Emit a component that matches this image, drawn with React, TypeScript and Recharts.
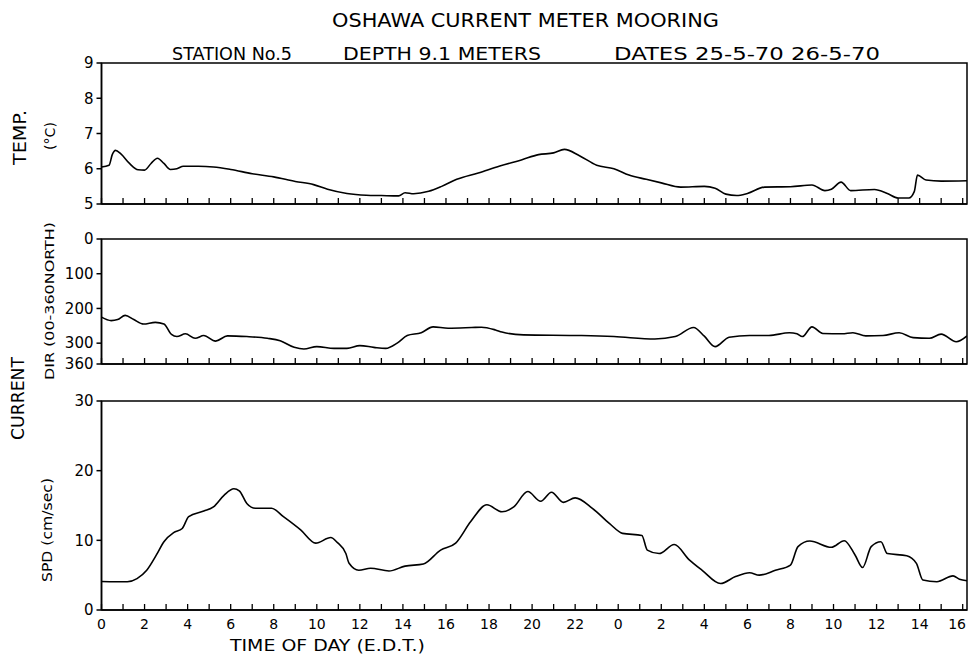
import { LineChart, Line, XAxis, YAxis, ReferenceArea } from "recharts";

const FONT = "'DejaVu Sans', 'Liberation Sans', sans-serif";

// time axis (hours from 0:00 on 25-5-70)
const hourTicks = [
  0, 1, 2, 3, 4, 5, 6, 7, 8, 9, 10, 11, 12, 13, 14, 15, 16, 17, 18, 19, 20,
  21, 22, 23, 24, 25, 26, 27, 28, 29, 30, 31, 32, 33, 34, 35, 36, 37, 38, 39, 40,
];
const hourLabels = [
  "0", "2", "4", "6", "8", "10", "12", "14", "16", "18", "20", "22",
  "0", "2", "4", "6", "8", "10", "12", "14", "16",
];
const X_MAX = 40.2;

const tempTicks = [5, 6, 7, 8, 9];
const dirTicks = [0, 100, 200, 300, 360];
const spdTicks = [0, 10, 20, 30];

const tempHours = [
  0, 0.35, 0.5, 0.65, 0.9, 1.3, 1.7, 2.0, 2.3, 2.6, 2.9, 3.2, 3.5, 3.8, 4.5,
  5.2, 6.0, 7.0, 8.0, 9.0, 9.85, 10.5, 11.4, 12.3, 13.0, 13.8, 14.1, 14.5,
  15.2, 15.8, 16.5, 17.5, 18.5, 19.5, 20.3, 21.0, 21.5, 22.2, 23.0, 23.8,
  24.5, 25.3, 26.0, 26.9, 28.0, 28.5, 29.0, 29.5, 30.0, 30.8, 32.0, 33.0,
  33.6, 33.9, 34.35, 34.8, 35.9, 36.5, 37.0, 37.5, 37.75, 37.9, 38.3, 39.0,
  40.2,
];
const tempValues = [
  6.05, 6.1, 6.4, 6.52, 6.42, 6.15, 5.97, 5.96, 6.15, 6.3, 6.15, 5.98, 6.0,
  6.07, 6.07, 6.05, 5.98, 5.86, 5.77, 5.64, 5.55, 5.42, 5.3, 5.25, 5.24,
  5.23, 5.32, 5.29, 5.36, 5.5, 5.7, 5.88, 6.08, 6.25, 6.4, 6.45, 6.55, 6.37,
  6.1, 6.0, 5.82, 5.7, 5.6, 5.48, 5.5, 5.45, 5.28, 5.24, 5.3, 5.48, 5.49,
  5.54, 5.38, 5.42, 5.62, 5.38, 5.41, 5.3, 5.17, 5.17, 5.35, 5.82, 5.68,
  5.65, 5.66,
];

const dirHours = [
  0, 0.45, 0.75, 1.1, 1.5, 1.95, 2.5, 2.9, 3.25, 3.5, 3.9, 4.35, 4.75, 5.3,
  5.85, 6.75, 7.7, 8.3, 8.95, 9.4, 10.0, 10.8, 11.4, 12.0, 12.65, 13.2,
  13.75, 14.2, 14.85, 15.4, 16.1, 17.2, 17.65, 18.3, 18.6, 19.6, 22.3, 23.8,
  25.7, 26.65, 27.5, 28.0, 28.5, 29.15, 30.1, 31.0, 31.95, 32.3, 32.55, 33.0,
  33.5, 34.4, 34.9, 35.5, 36.3, 37.05, 37.7, 38.45, 39.0, 39.7, 40.2,
];
const dirValues = [
  225, 235, 232, 220, 232, 245, 240, 245, 275, 281, 273, 286, 278, 294, 279,
  281, 286, 293, 312, 317, 310, 315, 315, 307, 312, 315, 299, 278, 270, 253,
  257, 255, 254, 262, 268, 276, 278, 281, 288, 281, 255, 280, 310, 283, 278,
  278, 270, 273, 281, 253, 272, 273, 270, 279, 278, 270, 284, 286, 274, 296,
  279,
];

const spdHours = [
  0, 1.2, 1.65, 2.1, 2.55, 2.9, 3.35, 3.75, 4.05, 4.75, 5.2, 5.7, 6.15, 6.4,
  6.75, 7.15, 7.9, 8.45, 9.25, 9.95, 10.65, 10.95, 11.35, 11.5, 11.95, 12.5,
  13.35, 14.1, 14.95, 15.75, 16.45, 17.15, 17.9, 18.6, 19.15, 19.8, 20.4,
  20.9, 21.45, 22.0, 22.8, 23.6, 24.2, 25.1, 25.35, 25.9, 26.6, 27.3, 27.9,
  28.75, 29.45, 30.1, 30.55, 31.3, 32.0, 32.35, 32.9, 33.9, 34.5, 35.0,
  35.35, 35.75, 36.2, 36.5, 37.4, 37.85, 38.15, 38.8, 39.55, 39.85, 40.2,
];
const spdValues = [
  4.1, 4.05, 4.5, 5.7, 7.9, 9.8, 11.1, 11.7, 13.4, 14.2, 14.8, 16.5, 17.4,
  17.1, 15.3, 14.6, 14.6, 13.4, 11.5, 9.6, 10.4, 9.7, 8.1, 6.7, 5.7, 6.0, 5.6,
  6.3, 6.6, 8.6, 9.6, 12.7, 15.1, 14.1, 14.8, 17.0, 15.6, 16.9, 15.45, 16.1,
  14.6, 12.4, 11.0, 10.7, 8.6, 8.1, 9.4, 7.2, 5.7, 3.8, 4.8, 5.35, 5.0, 5.7,
  6.45, 9.1, 9.9, 9.0, 9.95, 7.9, 6.1, 9.1, 9.8, 8.1, 7.8, 6.7, 4.3, 4.06,
  4.9, 4.4, 4.2,
];

const toRows = (hours: number[], values: number[]) =>
  hours.map((h, i) => ({ h, v: values[i] }));

function HourTick(props: any) {
  const { x, y, payload, showLabel } = props;
  const h = payload.value as number;
  const last = h === hourTicks[hourTicks.length - 1];
  return (
    <g>
      <line x1={x} x2={x} y1={y} y2={y - 6} stroke="#000" strokeWidth={1.3} />
      {showLabel && h % 2 === 0 && (
        <text
          x={last ? 966 : x}
          y={y + 19}
          textAnchor={last ? "end" : "middle"}
          fill="#000"
          fontSize={14}
          fontFamily={FONT}
        >
          {hourLabels[h / 2]}
        </text>
      )}
    </g>
  );
}

type PanelProps = {
  plotTop: number;
  plotBottom: number;
  axisHeight: number;
  rows: { h: number; v: number }[];
  domain: [number, number];
  ticks: number[];
  reversed?: boolean;
  showLabels?: boolean;
};

function Panel({ plotTop, plotBottom, axisHeight, rows, domain, ticks, reversed, showLabels }: PanelProps) {
  return (
    <div style={{ position: "absolute", left: 0, top: 0 }}>
      <LineChart
        width={968}
        height={657}
        data={rows}
        margin={{ top: plotTop, right: 1, bottom: 657 - plotBottom - axisHeight, left: 0 }}
      >
        <XAxis
          dataKey="h"
          type="number"
          domain={[0, X_MAX]}
          ticks={hourTicks}
          interval={0}
          allowDataOverflow
          height={axisHeight}
          tickLine={false}
          tickSize={0}
          tickMargin={0}
          axisLine={{ stroke: "#000", strokeWidth: 1.5 }}
          tick={(p: any) => <HourTick {...p} showLabel={showLabels} />}
        />
        <YAxis
          type="number"
          width={101.5}
          domain={domain}
          ticks={ticks}
          reversed={reversed}
          allowDataOverflow
          interval={0}
          tickSize={5}
          tickMargin={3}
          axisLine={{ stroke: "#000", strokeWidth: 1.5 }}
          tickLine={{ stroke: "#000", strokeWidth: 1.5 }}
          tick={{ fill: "#000", fontSize: 15, fontFamily: FONT }}
        />
        <ReferenceArea
          x1={0}
          x2={X_MAX}
          y1={domain[0]}
          y2={domain[1]}
          fill="none"
          stroke="#000"
          strokeWidth={1.5}
          ifOverflow="visible"
        />
        <Line
          dataKey="v"
          type="monotone"
          stroke="#000"
          strokeWidth={1.6}
          dot={false}
          isAnimationActive={false}
        />
      </LineChart>
    </div>
  );
}

function VLabel({ cx, cy, len, size, children }: any) {
  return (
    <text
      transform={`translate(${cx},${cy}) rotate(-90)`}
      textAnchor="middle"
      dominantBaseline="central"
      fontSize={size}
      fontFamily={FONT}
      fill="#000"
      textLength={len}
      lengthAdjust="spacingAndGlyphs"
    >
      {children}
    </text>
  );
}

export default function App() {
  return (
    <div
      style={{
        position: "absolute",
        left: 0,
        top: 0,
        width: 968,
        height: 657,
        background: "#fff",
        fontFamily: FONT,
      }}
    >
      <Panel plotTop={63} plotBottom={204} axisHeight={10} rows={toRows(tempHours, tempValues)} domain={[5, 9]} ticks={tempTicks} />
      <Panel plotTop={239} plotBottom={364} axisHeight={10} rows={toRows(dirHours, dirValues)} domain={[0, 360]} ticks={dirTicks} reversed />
      <Panel plotTop={401} plotBottom={610} axisHeight={40} rows={toRows(spdHours, spdValues)} domain={[0, 30]} ticks={spdTicks} showLabels />
      <svg width={968} height={657} style={{ position: "absolute", left: 0, top: 0, pointerEvents: "none" }}>
        <text x={332} y={27} fontSize={20} fontFamily={FONT} fill="#000" textLength={387} lengthAdjust="spacingAndGlyphs">
          OSHAWA CURRENT METER MOORING
        </text>
        <text x={172} y={60} fontSize={18} fontFamily={FONT} fill="#000" textLength={120} lengthAdjust="spacingAndGlyphs">
          STATION No.5
        </text>
        <text x={343} y={60} fontSize={18} fontFamily={FONT} fill="#000" textLength={198} lengthAdjust="spacingAndGlyphs">
          DEPTH 9.1  METERS
        </text>
        <text x={614} y={60} fontSize={18} fontFamily={FONT} fill="#000" textLength={266} lengthAdjust="spacingAndGlyphs">
          DATES 25-5-70  26-5-70
        </text>
        <text x={230} y={651} fontSize={16} fontFamily={FONT} fill="#000" textLength={195} lengthAdjust="spacingAndGlyphs">
          TIME OF  DAY  (E.D.T.)
        </text>
        <VLabel cx={20} cy={137.5} len={55} size={17}>TEMP.</VLabel>
        <VLabel cx={50} cy={136} len={28} size={14}>(°C)</VLabel>
        <VLabel cx={17.5} cy={398.5} len={83} size={17}>CURRENT</VLabel>
        <VLabel cx={49} cy={301} len={158} size={13}>DIR (00-360NORTH)</VLabel>
        <VLabel cx={47} cy={530} len={104} size={14}>SPD (cm/sec)</VLabel>
      </svg>
    </div>
  );
}
